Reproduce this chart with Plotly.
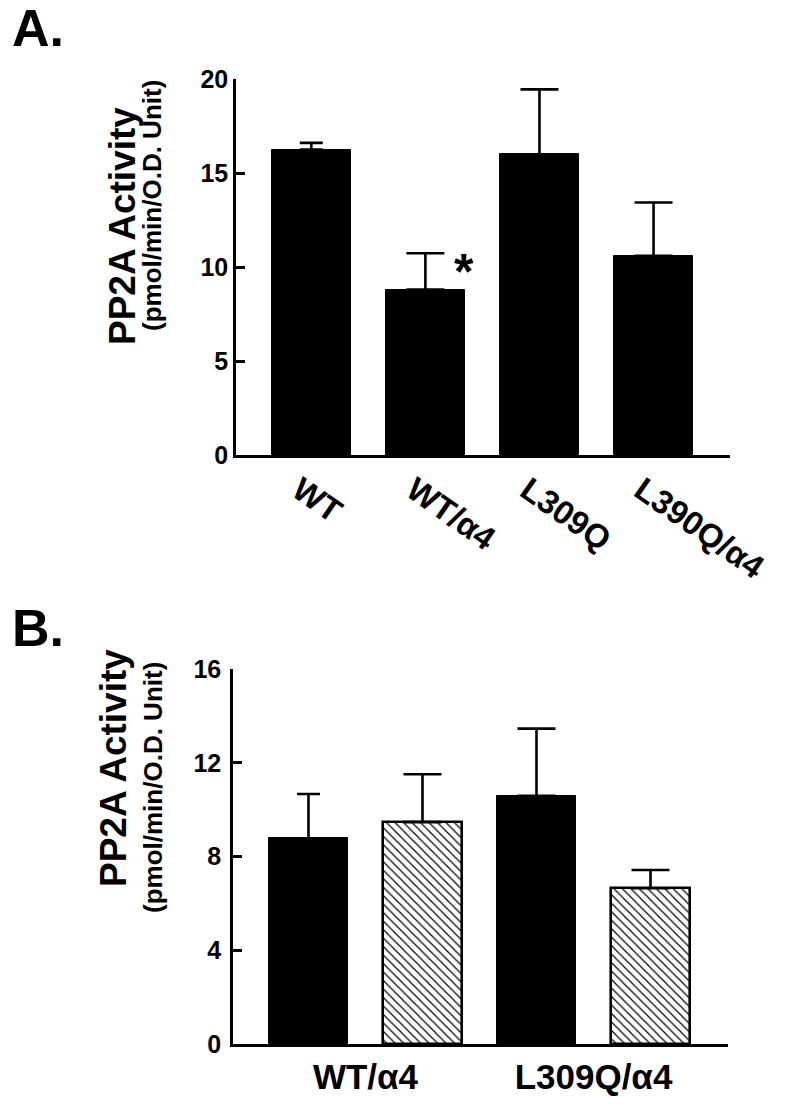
import plotly.graph_objects as go

# ---------------- data ----------------
a_labels = ["WT", "WT/α4", "L309Q", "L390Q/α4"]
a_values = [16.25, 8.8, 16.0, 10.6]
a_errors = [0.35, 1.93, 3.45, 2.83]

b_groups = ["WT/α4", "L309Q/α4"]
b_values = [8.78, 9.47, 10.59, 6.65]
b_errors = [1.89, 2.04, 2.87, 0.78]
b_hatched = [False, True, False, True]

a_ticks = [0, 5, 10, 15, 20]
b_ticks = [0, 4, 8, 12, 16]

# ---------------- style ----------------
FONT = "Liberation Sans, Arial, Helvetica, sans-serif"
W, H = 787, 1106
cap_a = [11.5, 19, 19, 19]
cap_b = [11.5, 19, 19, 19]
BAR_W = 0.69
LW = 2.6


def px_x(p):
    return p / W


def px_y(p):
    return 1 - p / H


fig = go.Figure()

for i, (v, e) in enumerate(zip(a_values, a_errors)):
    fig.add_trace(go.Bar(
        x=[i], y=[v], width=BAR_W, xaxis="x", yaxis="y", showlegend=False,
        marker=dict(color="black", line=dict(color="black", width=1)),
        error_y=dict(type="data", symmetric=False, array=[e], arrayminus=[0],
                     color="black", thickness=LW, width=cap_a[i]),
        hoverinfo="skip"))

for i, (v, e, h) in enumerate(zip(b_values, b_errors, b_hatched)):
    if h:
        marker = dict(color="white", line=dict(color="black", width=LW),
                      pattern=dict(shape="\\", fgcolor="black", bgcolor="white",
                                   size=6, solidity=0.2, fillmode="replace"))
    else:
        marker = dict(color="black", line=dict(color="black", width=1))
    fig.add_trace(go.Bar(
        x=[i], y=[v], width=BAR_W, xaxis="x2", yaxis="y2", showlegend=False,
        marker=marker,
        error_y=dict(type="data", symmetric=False, array=[e], arrayminus=[0],
                     color="black", thickness=LW, width=cap_b[i]),
        hoverinfo="skip"))

axis_common = dict(showline=True, linecolor="black", linewidth=LW, showgrid=False,
                   zeroline=False, mirror=False, automargin=False)

fig.update_layout(
    template="none",
    width=W, height=H,
    margin=dict(l=0, r=0, t=0, b=0),
    paper_bgcolor="white", plot_bgcolor="white",
    bargap=0,
    font=dict(family=FONT, color="black"),
    xaxis=dict(domain=[px_x(236), px_x(730)], range=[-0.66, 3.67], anchor="y",
               tickvals=list(range(len(a_labels))), ticktext=a_labels,
               tickangle=35, ticks="", ticklabelshift=-12,
               tickfont=dict(family=FONT, size=33, weight="bold", color="black"),
               **axis_common),
    yaxis=dict(domain=[px_y(455), px_y(79)], range=[0, 20], anchor="x",
               tickvals=a_ticks, ticks="inside", ticklen=9, tickwidth=LW, tickcolor="black",
               tickfont=dict(family=FONT, size=25, weight="bold", color="black"),
               **axis_common),
    xaxis2=dict(domain=[px_x(233), px_x(727.7)], range=[-0.662, 3.677], anchor="y2",
                tickvals=[0.5, 2.5], ticktext=b_groups, ticks="",
                tickfont=dict(family=FONT, size=35, weight="bold", color="black"),
                **axis_common),
    yaxis2=dict(domain=[px_y(1044.3), px_y(669)], range=[0, 16], anchor="x2",
                tickvals=b_ticks, ticks="inside", ticklen=9, tickwidth=LW, tickcolor="black",
                ticklabelstandoff=4,
                tickfont=dict(family=FONT, size=25, weight="bold", color="black"),
                **axis_common),
)

ann = []
# panel letters
ann.append(dict(text="A.", x=px_x(10), y=px_y(28), xref="paper", yref="paper",
                xanchor="left", yanchor="middle", showarrow=False,
                font=dict(family=FONT, size=52, weight="bold")))
ann.append(dict(text="B.", x=px_x(10), y=px_y(628), xref="paper", yref="paper",
                xanchor="left", yanchor="middle", showarrow=False,
                font=dict(family=FONT, size=52, weight="bold")))
# y titles
for cx1, cy1, cx2, cy2 in [(122, 226, 152, 206), (113, 768, 153, 788)]:
    ann.append(dict(text="PP2A Activity", x=px_x(cx1), y=px_y(cy1), xref="paper", yref="paper",
                    xanchor="center", yanchor="middle", textangle=-90, showarrow=False,
                    font=dict(family=FONT, size=37, weight="bold")))
    ann.append(dict(text="(pmol/min/O.D. Unit)", x=px_x(cx2), y=px_y(cy2), xref="paper", yref="paper",
                    xanchor="center", yanchor="middle", textangle=-90, showarrow=False,
                    font=dict(family=FONT, size=26, weight="bold")))
# significance asterisk
ann.append(dict(text="*", x=1.34, y=9.75, xref="x", yref="y", xanchor="center", yanchor="middle",
                showarrow=False, font=dict(family=FONT, size=50, weight="bold")))

fig.update_layout(annotations=ann)

fig.write_html("out.html", config={"displayModeBar": False},
               post_script="document.body.style.margin='0px';")
